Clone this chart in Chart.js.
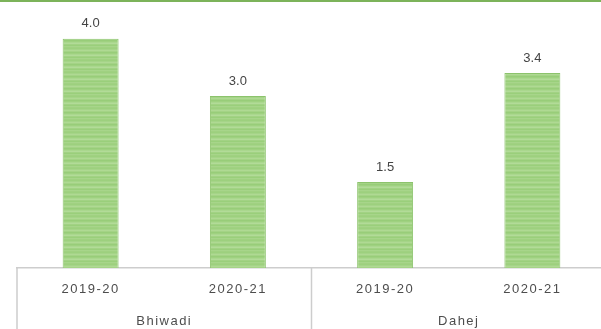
<!DOCTYPE html>
<html>
<head>
<meta charset="utf-8">
<script src="https://cdn.jsdelivr.net/npm/chart.js@4/dist/chart.umd.min.js"></script>
<style>
  html, body { margin: 0; padding: 0; background: #fff; overflow: hidden; }
  canvas { display: block; }
</style>
</head>
<body>
<canvas id="chart" width="610" height="329"></canvas>
<script>
// years per bar, plant sites, values
const years = ["2019-20", "2020-21", "2019-20", "2020-21"];
const sites = ["Bhiwadi", "Dahej"];
const values = [4.0, 3.0, 1.5, 3.4];

const fontFamily = "'Liberation Sans', Arial, Helvetica, sans-serif";
const lineColor = "#cdcdcd";
const textColor = "#4d4d4d";

// soft striped green fill for the bars
function stripeFill() {
    const rows = ["#9dd07e", "#a5d488", "#afd993", "#a4d386", "#98cd79",
                  "#9fd180", "#aad78e", "#b2db98", "#a2d284", "#9acf7b",
                  "#a7d58a", "#a0d181"];
    const c = document.createElement("canvas");
    c.width = 4;
    c.height = rows.length;
    const g = c.getContext("2d");
    rows.forEach((col, i) => {
        g.fillStyle = col;
        g.fillRect(0, i, 4, 1);
    });
    return g.createPattern(c, "repeat");
}

const decorations = {
    id: "decorations",
    beforeDraw(chart) {
        chart.ctx.letterSpacing = "1.5px";
    },
    afterDatasetsDraw(chart) {
        // value labels over the bars
        const ctx = chart.ctx;
        const meta = chart.getDatasetMeta(0);
        ctx.save();
        ctx.letterSpacing = "0px";
        ctx.font = "13px " + fontFamily;
        ctx.fillStyle = "#444";
        ctx.textAlign = "center";
        ctx.textBaseline = "middle";
        meta.data.forEach((bar, i) => {
            ctx.fillText(values[i].toFixed(1), bar.x, bar.y - 15);
        });
        ctx.restore();
    },
    afterDraw(chart) {
        const ctx = chart.ctx;
        const area = chart.chartArea;
        const x = chart.scales.x;
        ctx.save();
        // green rule along the top
        ctx.fillStyle = "#7cb35a";
        ctx.fillRect(0, 0, chart.width, 2);
        // separators below the axis
        const split = (x.getPixelForValue(1) + x.getPixelForValue(2)) / 2;
        ctx.strokeStyle = lineColor;
        ctx.lineWidth = 1.5;
        ctx.beginPath();
        [area.left, split].forEach(px => {
            ctx.moveTo(px, area.bottom);
            ctx.lineTo(px, chart.height);
        });
        ctx.stroke();
        ctx.restore();
    }
};

new Chart(document.getElementById("chart"), {
    type: "bar",
    data: {
        labels: years,
        datasets: [{
            data: values,
            backgroundColor: stripeFill(),
            borderColor: "#8cc36c",
            borderWidth: 1,
            barPercentage: 0.38,
            categoryPercentage: 1
        }]
    },
    options: {
        responsive: false,
        animation: false,
        devicePixelRatio: 1,
        layout: { padding: { left: 17, right: 4, top: 10, bottom: 0 } },
        plugins: {
            legend: { display: false },
            tooltip: { enabled: false }
        },
        scales: {
            y: { display: false, min: 0, max: 4.5 },
            x: {
                position: "bottom",
                weight: 0,
                grid: { display: false, drawTicks: false },
                border: { display: true, color: lineColor, width: 1.5 },
                ticks: {
                    color: textColor,
                    padding: 14,
                    maxRotation: 0,
                    autoSkip: false,
                    font: { family: fontFamily, size: 13 }
                },
                afterFit: s => { s.height = 32; }
            },
            group: {
                type: "category",
                labels: sites,
                position: "bottom",
                weight: 1,
                offset: true,
                grid: { display: false, drawTicks: false },
                border: { display: false },
                ticks: {
                    color: textColor,
                    padding: 14,
                    maxRotation: 0,
                    font: { family: fontFamily, size: 13 }
                },
                afterFit: s => { s.height = 29; }
            }
        }
    },
    plugins: [decorations]
});
</script>
</body>
</html>
